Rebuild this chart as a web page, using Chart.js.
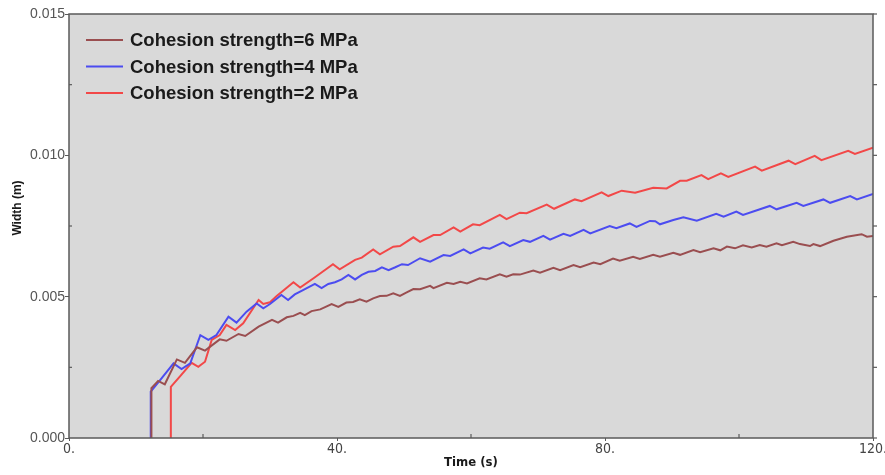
<!DOCTYPE html>
<html>
<head>
<meta charset="utf-8">
<script src="https://cdn.jsdelivr.net/npm/chart.js@4.4.1/dist/chart.umd.min.js"></script>
<style>
  html, body { margin: 0; padding: 0; background: #ffffff; }
  #wrap { width: 885px; height: 475px; position: relative; }
</style>
</head>
<body>
<div id="wrap"><canvas id="c" width="885" height="475"></canvas></div>
<script>
// ---- Data (time in s, width in mm, converted to m below) ----
const seriesLabels = ["Cohesion strength=6 MPa", "Cohesion strength=4 MPa", "Cohesion strength=2 MPa"];

const time6 = [12.3,12.3,13.3,14.3,16.1,17.3,19.1,20.3,22.5,23.5,25.3,26.3,28.3,30.3,31.2,32.5,33.5,34.5,35.2,36.2,37.5,39.2,40.2,41.4,42.4,43.4,44.4,45.4,46.4,47.4,48.4,49.4,50.4,51.4,52.4,53.9,54.4,56.4,57.4,58.4,59.4,61.3,62.3,64.3,65.3,66.3,67.3,69.3,70.3,72.3,73.3,75.3,76.3,78.3,79.3,81.2,82.2,84.2,85.2,87.2,88.2,90.2,91.2,93.2,94.2,96.2,97.2,98.2,99.4,100.6,101.9,103.1,104.1,105.6,106.4,108.1,109.1,110.6,111.1,112.1,114.1,116.1,118.3,119.1,120];
const width6mm = [0,1.76,2.02,1.90,2.78,2.66,3.21,3.09,3.49,3.44,3.68,3.61,3.94,4.18,4.08,4.27,4.32,4.43,4.35,4.49,4.55,4.74,4.64,4.79,4.81,4.91,4.82,4.94,5.02,5.03,5.12,5.03,5.15,5.27,5.26,5.38,5.30,5.49,5.45,5.53,5.47,5.65,5.61,5.79,5.71,5.79,5.78,5.92,5.85,6.02,5.94,6.12,6.04,6.21,6.15,6.35,6.27,6.41,6.33,6.48,6.41,6.55,6.48,6.65,6.57,6.71,6.64,6.77,6.71,6.82,6.74,6.83,6.77,6.89,6.82,6.94,6.86,6.79,6.86,6.79,6.98,7.12,7.21,7.12,7.15];

const time4 = [12.2,12.2,13.6,15.6,16.8,18.1,19.6,20.8,22.0,23.8,25.0,26.5,28.0,29.0,30.0,31.7,32.7,33.7,35.0,36.7,37.7,38.7,39.7,40.7,41.7,42.7,43.7,44.7,45.7,46.7,47.7,48.7,49.7,50.6,52.4,53.9,55.9,56.9,58.9,59.9,61.8,62.8,64.8,65.8,67.8,68.8,70.8,71.8,73.8,74.8,76.8,77.8,80.7,81.7,83.7,84.7,86.7,87.5,88.2,90.2,91.7,93.7,96.6,97.7,99.6,100.6,104.6,105.6,108.6,109.6,112.6,113.6,116.6,117.6,120];
const width4mm = [0,1.64,2.05,2.64,2.44,2.64,3.64,3.47,3.64,4.29,4.08,4.47,4.76,4.59,4.74,5.06,4.88,5.08,5.24,5.45,5.30,5.45,5.51,5.61,5.77,5.61,5.77,5.88,5.91,6.04,5.94,6.04,6.15,6.12,6.36,6.24,6.47,6.44,6.67,6.53,6.74,6.70,6.92,6.79,7.00,6.94,7.15,7.02,7.22,7.15,7.36,7.24,7.50,7.42,7.59,7.47,7.68,7.67,7.56,7.71,7.81,7.69,7.93,7.83,8.01,7.89,8.21,8.09,8.32,8.21,8.44,8.32,8.56,8.44,8.63];

const time2 = [15.2,15.2,16.6,18.3,19.3,20.3,21.3,22.5,23.5,24.8,26.0,28.3,29.0,30.0,31.0,33.5,34.5,36.5,39.4,40.4,42.7,43.7,45.4,46.4,48.4,49.4,51.4,52.4,54.4,55.4,57.4,58.4,60.3,61.3,64.3,65.3,67.3,68.3,71.3,72.4,75.5,76.5,79.5,80.5,82.5,84.5,87.2,89.2,91.2,92.2,94.4,95.4,97.3,98.4,102.4,103.4,107.4,108.4,111.3,112.3,116.3,117.3,120];
const width2mm = [0,1.81,2.19,2.66,2.52,2.70,3.47,3.64,4.00,3.82,4.06,4.88,4.74,4.80,5.02,5.51,5.32,5.65,6.15,5.97,6.30,6.38,6.67,6.50,6.77,6.79,7.10,6.94,7.18,7.18,7.45,7.30,7.56,7.53,7.89,7.74,7.97,7.95,8.26,8.11,8.44,8.38,8.69,8.56,8.75,8.68,8.85,8.83,9.10,9.10,9.30,9.16,9.36,9.24,9.60,9.46,9.81,9.69,9.98,9.83,10.16,10.05,10.27];

const xTickLabels = {0: "0.", 40: "40.", 80: "80.", 120: "120."};
const yTickLabels = {0: "0.000", 0.005: "0.005", 0.01: "0.010", 0.015: "0.015"};
const xTitle = "Time (s)";
const yTitle = "Width (m)";

const colors = ["#9a4e50", "#4c4cf0", "#f24848"];

function pts(t, wmm) { return t.map((x, i) => ({x: x, y: wmm[i] / 1000})); }

const datasets = [
  {label: seriesLabels[0], data: pts(time6, width6mm)},
  {label: seriesLabels[1], data: pts(time4, width4mm)},
  {label: seriesLabels[2], data: pts(time2, width2mm)}
].map((d, i) => Object.assign(d, {
  borderColor: colors[i], backgroundColor: colors[i], borderWidth: 2,
  pointRadius: 0, tension: 0, fill: false
}));

function lookup(map, v) {
  for (const k in map) { if (Math.abs(parseFloat(k) - v) < 1e-9) return map[k]; }
  return null;
}

const framePlugin = {
  id: 'frame',
  beforeDraw(chart) {
    const {ctx, chartArea: a} = chart;
    ctx.save();
    ctx.fillStyle = '#d9d9d9';
    ctx.fillRect(a.left, a.top, a.right - a.left, a.bottom - a.top);
    ctx.restore();
  },
  afterDatasetsDraw(chart) {
    const {ctx, chartArea: a, scales} = chart;
    ctx.save();
    ctx.strokeStyle = '#5a5a5a';
    ctx.lineWidth = 1.5;
    ctx.strokeRect(a.left, a.top, a.right - a.left, a.bottom - a.top);
    ctx.lineWidth = 1.2;
    scales.x.ticks.forEach(t => {
      if (lookup(xTickLabels, t.value) === null) {
        const px = scales.x.getPixelForValue(t.value);
        ctx.beginPath(); ctx.moveTo(px, a.bottom); ctx.lineTo(px, a.bottom - 4); ctx.stroke();
      }
    });
    scales.y.ticks.forEach(t => {
      const py = scales.y.getPixelForValue(t.value);
      if (lookup(yTickLabels, t.value) === null) {
        ctx.beginPath(); ctx.moveTo(a.left, py); ctx.lineTo(a.left + 3, py); ctx.stroke();
      }
      ctx.beginPath(); ctx.moveTo(a.right, py); ctx.lineTo(a.right + 4, py); ctx.stroke();
    });
    // legend in chart area
    ctx.font = 'bold 18.5px "Liberation Sans", Arial, sans-serif';
    ctx.textBaseline = 'middle';
    chart.data.datasets.forEach((ds, i) => {
      const y = a.top + 26 + i * 26.5;
      ctx.strokeStyle = ds.borderColor;
      ctx.lineWidth = 2;
      ctx.beginPath(); ctx.moveTo(a.left + 17, y); ctx.lineTo(a.left + 54, y); ctx.stroke();
      ctx.fillStyle = '#1a1a1a';
      ctx.fillText(ds.label, a.left + 61, y + 1);
    });
    // y axis title
    ctx.translate(18, 208);
    ctx.rotate(-Math.PI / 2);
    ctx.textAlign = 'center';
    ctx.font = 'bold 12px "Liberation Sans", Arial, sans-serif';
    ctx.fillStyle = '#1a1a1a';
    ctx.fillText(yTitle, 0, 0);
    ctx.restore();
  }
};

new Chart(document.getElementById('c'), {
  type: 'line',
  data: {datasets: datasets},
  options: {
    responsive: false,
    animation: false,
    layout: {padding: {top: 14, right: 12, left: 0, bottom: 0}},
    plugins: {legend: {display: false}, tooltip: {enabled: false}},
    scales: {
      x: {
        type: 'linear', min: 0, max: 120,
        afterFit(s) { s.height = 37; s.paddingRight = 0; s.paddingLeft = 0; },
        ticks: {
          stepSize: 20, autoSkip: false, maxRotation: 0, padding: 0,
          color: '#444',
          font: {family: '"Liberation Sans Narrow", "DejaVu Sans Condensed", Arial, sans-serif', size: 14},
          callback: (v) => { const l = lookup(xTickLabels, v); return l === null ? '' : l; }
        },
        grid: {
          drawOnChartArea: false, tickLength: 3,
          tickColor: (c) => lookup(xTickLabels, c.tick.value) === null ? 'rgba(0,0,0,0)' : '#5a5a5a'
        },
        border: {display: false},
        title: {
          display: true, text: xTitle, color: '#1a1a1a',
          font: {family: '"Liberation Sans Narrow", "DejaVu Sans Condensed", Arial, sans-serif', size: 13, weight: 'bold'},
          padding: {top: 0, bottom: 5}
        }
      },
      y: {
        type: 'linear', min: 0, max: 0.015,
        afterFit(s) { s.width = 69; },
        ticks: {
          stepSize: 0.0025, autoSkip: false, padding: 0,
          color: '#555',
          font: {family: '"Liberation Sans", Arial, sans-serif', size: 14},
          callback: (v) => { const l = lookup(yTickLabels, v); return l === null ? '' : l; }
        },
        grid: {
          drawOnChartArea: false, tickLength: 4,
          tickColor: (c) => lookup(yTickLabels, c.tick.value) === null ? 'rgba(0,0,0,0)' : '#5a5a5a'
        },
        border: {display: false},
        title: {display: false}
      }
    }
  },
  plugins: [framePlugin]
});
</script>
</body>
</html>
